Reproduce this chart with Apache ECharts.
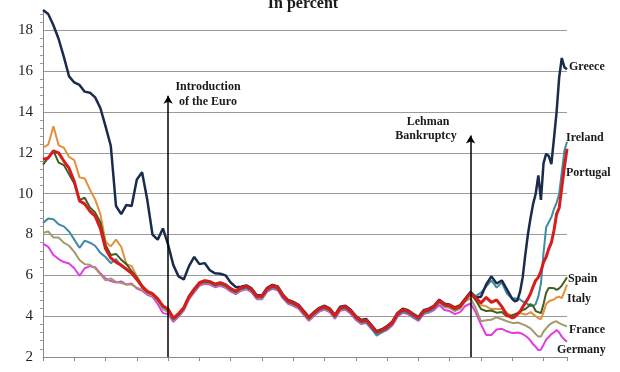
<!DOCTYPE html>
<html>
<head>
<meta charset="utf-8">
<script src="https://cdn.jsdelivr.net/npm/echarts@6/dist/echarts.min.js"></script>
<style>html,body{margin:0;padding:0;background:#fff;}#c{width:620px;height:372px;}</style>
</head>
<body>
<div id="c"></div>
<script>
// Month stamps (every 2 months to 2010, then monthly)
const dates = [
"1995-01","1995-03","1995-05","1995-07","1995-09","1995-11",
"1996-01","1996-03","1996-05","1996-07","1996-09","1996-11",
"1997-01","1997-03","1997-05","1997-07","1997-09","1997-11",
"1998-01","1998-03","1998-05","1998-07","1998-09","1998-11",
"1999-01","1999-03","1999-05","1999-07","1999-09","1999-11",
"2000-01","2000-03","2000-05","2000-07","2000-09","2000-11",
"2001-01","2001-03","2001-05","2001-07","2001-09","2001-11",
"2002-01","2002-03","2002-05","2002-07","2002-09","2002-11",
"2003-01","2003-03","2003-05","2003-07","2003-09","2003-11",
"2004-01","2004-03","2004-05","2004-07","2004-09","2004-11",
"2005-01","2005-03","2005-05","2005-07","2005-09","2005-11",
"2006-01","2006-03","2006-05","2006-07","2006-09","2006-11",
"2007-01","2007-03","2007-05","2007-07","2007-09","2007-11",
"2008-01","2008-03","2008-05","2008-07","2008-09","2008-11",
"2009-01","2009-03","2009-05","2009-07","2009-09","2009-11",
"2010-01","2010-02","2010-03","2010-04","2010-05","2010-06","2010-07","2010-08","2010-09","2010-10","2010-11","2010-12",
"2011-01","2011-02","2011-03","2011-04","2011-05","2011-06","2011-07","2011-08","2011-09","2011-10"
];

const greece = [
19.0,18.8,18.25,17.58,16.7,15.75,15.45,15.33,15.0,14.95,14.72,14.2,13.3,12.35,9.4,9.0,9.45,9.4,10.7,11.05,9.7,8.0,7.75,8.3,7.5,6.5,5.95,5.8,6.45,6.9,6.55,6.6,6.25,6.1,6.08,6.0,5.65,5.42,
5.44,5.51,5.36,5.02,5.02,5.39,5.53,5.46,5.06,4.79,4.7,4.56,4.26,3.96,4.21,4.41,4.51,4.38,4.06,4.46,4.51,4.31,4.01,3.81,3.86,3.56,3.26,3.36,3.51,3.73,4.16,4.36,4.29,4.12,3.96,4.29,4.37,4.51,4.81,4.61,4.56,4.41,4.53,4.86,
5.18,4.9,4.95,5.55,5.95,5.6,5.75,5.3,4.85,
4.73,4.78,5.2,5.9,7.0,8.0,8.8,9.5,10.0,10.9,9.7,11.5,11.95,11.85,11.45,12.7,14.0,15.7,16.65,16.2,16.1
];
const ireland = [
8.57,8.78,8.75,8.5,8.4,8.15,7.75,7.35,7.7,7.6,7.45,7.1,6.9,6.6,6.8,6.45,6.3,6.1,5.85,5.45,5.2,5.05,4.8,4.45,4.3,
3.82,4.05,4.35,4.9,5.25,5.57,5.67,5.63,5.5,5.57,5.47,5.28,5.16,5.33,5.4,5.25,4.91,4.91,5.28,5.42,5.35,4.95,4.68,4.59,4.45,4.15,3.85,4.1,4.3,4.4,4.27,3.95,4.35,4.4,4.2,3.9,3.7,3.72,3.4,3.05,3.2,3.38,3.6,4.03,4.23,4.16,3.98,3.82,4.15,4.24,4.38,4.7,4.52,4.48,4.35,4.45,4.8,
5.2,4.98,5.15,5.45,5.75,5.4,5.65,5.1,4.85,
4.88,4.85,4.82,4.72,4.66,4.58,4.5,4.5,4.6,4.96,5.6,7.1,8.35,8.6,8.85,9.25,9.55,10.0,11.05,12.1,12.55
];
const portugal = [
11.68,11.75,12.1,12.0,11.6,11.25,10.6,9.65,9.5,9.15,8.9,8.3,7.3,6.85,6.65,6.5,6.3,6.1,5.8,5.45,5.2,5.1,4.85,4.5,4.35,
3.9,4.12,4.42,4.97,5.32,5.64,5.74,5.7,5.57,5.64,5.54,5.35,5.23,5.4,5.47,5.32,4.98,4.98,5.35,5.49,5.42,5.02,4.75,4.66,4.52,4.22,3.92,4.17,4.37,4.47,4.34,4.02,4.42,4.47,4.27,3.97,3.77,3.82,3.52,3.22,3.32,3.47,3.69,4.12,4.32,4.25,4.08,3.92,4.25,4.33,4.47,4.77,4.57,4.52,4.37,4.49,4.82,
5.13,4.88,4.65,4.92,4.68,4.8,4.47,4.05,3.92,
3.97,4.1,4.23,4.45,4.65,4.85,5.1,5.45,5.75,5.9,6.2,6.65,6.9,7.3,7.6,8.2,9.0,9.3,10.3,11.3,12.2
];
const spain = [
11.43,11.75,12.1,11.52,11.4,10.95,10.5,9.7,9.8,9.33,9.08,8.6,7.5,7.0,7.05,6.77,6.55,6.2,5.9,5.5,5.22,5.1,4.86,4.5,4.33,
3.86,4.08,4.38,4.93,5.28,5.6,5.7,5.66,5.53,5.6,5.5,5.31,5.19,5.36,5.43,5.28,4.94,4.94,5.31,5.45,5.38,4.98,4.71,4.62,4.48,4.18,3.88,4.13,4.33,4.43,4.3,3.98,4.38,4.43,4.23,3.93,3.73,3.78,3.48,3.18,3.28,3.43,3.65,4.08,4.28,4.21,4.04,3.88,4.21,4.29,4.43,4.73,4.53,4.48,4.33,4.45,4.78,
5.13,4.78,4.35,4.25,4.28,4.17,4.2,3.98,4.05,
4.1,4.15,4.23,4.3,4.35,4.45,4.6,4.5,4.25,4.2,4.15,4.6,5.15,5.38,5.38,5.37,5.29,5.36,5.5,5.7,5.9
];
const italy = [
12.26,12.4,13.3,12.37,12.25,11.8,11.65,10.8,10.75,10.2,9.72,9.0,7.65,7.42,7.75,7.4,6.55,6.45,5.95,5.5,5.25,5.12,4.88,4.52,4.35,
3.88,4.13,4.43,4.98,5.33,5.65,5.75,5.71,5.58,5.65,5.55,5.36,5.24,5.41,5.48,5.33,4.99,4.99,5.36,5.5,5.43,5.03,4.76,4.67,4.53,4.23,3.93,4.18,4.38,4.48,4.35,4.03,4.43,4.48,4.28,3.98,3.78,3.83,3.53,3.23,3.33,3.48,3.7,4.13,4.33,4.26,4.09,3.93,4.26,4.34,4.5,4.8,4.62,4.58,4.45,4.55,4.85,
5.05,4.78,4.55,4.48,4.35,4.35,4.35,4.15,4.0,
4.0,4.1,4.15,4.12,4.08,4.12,4.2,4.1,4.0,3.9,3.85,4.2,4.6,4.72,4.78,4.82,4.92,4.95,4.88,5.2,5.55
];
const france = [
8.08,8.15,7.85,7.85,7.6,7.45,7.15,6.75,6.55,6.52,6.35,6.05,5.75,5.85,5.68,5.62,5.55,5.55,5.4,5.3,5.1,5.0,4.75,4.35,4.2,
3.78,4.02,4.32,4.87,5.22,5.54,5.64,5.6,5.47,5.54,5.44,5.25,5.13,5.3,5.37,5.22,4.88,4.88,5.25,5.39,5.32,4.92,4.65,4.56,4.42,4.12,3.82,4.07,4.27,4.37,4.24,3.92,4.32,4.37,4.17,3.87,3.67,3.72,3.42,3.14,3.24,3.37,3.59,4.02,4.22,4.15,3.98,3.82,4.15,4.23,4.37,4.67,4.45,4.4,4.25,4.37,4.72,
4.88,4.4,3.75,3.8,3.82,3.95,3.85,3.75,3.67,
3.67,3.69,3.65,3.6,3.55,3.48,3.4,3.27,3.12,3.0,3.0,3.25,3.4,3.55,3.65,3.72,3.75,3.66,3.6,3.55,3.5
];
const germany = [
7.55,7.4,7.0,6.8,6.65,6.58,6.35,5.98,6.35,6.45,6.4,6.1,5.85,5.72,5.65,5.7,5.55,5.6,5.35,5.25,5.05,4.95,4.6,4.15,4.1,
3.72,3.97,4.27,4.82,5.17,5.49,5.59,5.55,5.42,5.49,5.39,5.2,5.08,5.25,5.32,5.17,4.83,4.83,5.2,5.34,5.27,4.87,4.6,4.51,4.37,4.07,3.77,4.02,4.22,4.32,4.19,3.87,4.27,4.32,4.12,3.82,3.62,3.67,3.37,3.12,3.22,3.32,3.54,3.97,4.17,4.1,3.93,3.77,4.1,4.18,4.3,4.55,4.3,4.25,4.1,4.2,4.5,
4.62,4.18,3.6,3.08,3.08,3.35,3.38,3.26,3.17,
3.18,3.2,3.18,3.12,3.04,2.94,2.8,2.62,2.5,2.34,2.36,2.6,2.85,2.98,3.12,3.2,3.33,3.2,3.0,2.85,2.75
];

const yTicks = [2, 4, 6, 8, 10, 12, 14, 16, 18];
const euroDate = "1999-01", euroTop = 14.8;
const lehmanDate = "2008-09", lehmanTop = 12.85;

const SERIF = '"Liberation Serif","Times New Roman",serif';
function toYear(s){ const p = s.split('-'); return +p[0] + (+p[1]-1)/12; }
const xs = dates.map(toYear);
function pairs(vals){ return vals.map((v,i)=>[xs[i], v]); }

const defs = [
  {name:'Germany', data:germany, color:'#e03ce0', w:2},
  {name:'France', data:france, color:'#a09a6c', w:2},
  {name:'Ireland', data:ireland, color:'#3f8ba5', w:2},
  {name:'Italy', data:italy, color:'#e3913c', w:2},
  {name:'Spain', data:spain, color:'#3f6023', w:2},
  {name:'Greece', data:greece, color:'#1b2b4b', w:2.5},
  {name:'Portugal', data:portugal, color:'#d81c1c', w:3}
];

const series = defs.map(d => ({
  name: d.name, type:'line', data: pairs(d.data), showSymbol:false, symbol:'none',
  lineStyle:{color:d.color, width:d.w}, itemStyle:{color:d.color}, silent:true, z:2
}));
series[series.length-1].markLine = {
  silent:true, symbol:['none','arrow'], symbolSize:[7,8],
  lineStyle:{color:'#000', width:1.5, type:'solid'}, label:{show:false},
  data:[
    [{coord:[toYear(euroDate), yTicks[0]]},{coord:[toYear(euroDate), euroTop]}],
    [{coord:[toYear(lehmanDate), yTicks[0]]},{coord:[toYear(lehmanDate), lehmanTop]}]
  ]
};

const bad = defs.filter(d => d.data.length !== dates.length).map(d=>d.name+':'+d.data.length);

function txt(t, x, y, align, size, weight){
  return {type:'text', left:undefined, x:x, y:y, style:{text:t, fill:'#1a1a1a', font:(weight||'bold')+' '+size+'px '+SERIF, textAlign:align||'left', textVerticalAlign:'middle'}, z:10};
}

const chart = echarts.init(document.getElementById('c'), null, {renderer:'canvas'});
chart.setOption({
  animation:false,
  backgroundColor:'#fff',
  grid:{left:43, right:53, top:10, bottom:15, containLabel:false},
  xAxis:{type:'value', min:toYear(dates[0]), max:toYear(dates[dates.length-1]), interval:1,
    axisLine:{show:true, lineStyle:{color:'#8a8a8a', width:1}},
    axisTick:{show:true, length:4, lineStyle:{color:'#8a8a8a'}},
    axisLabel:{show:false}, splitLine:{show:false}},
  yAxis:{type:'value', min:yTicks[0], max:19, interval:2,
    axisLine:{show:true, lineStyle:{color:'#8a8a8a', width:1}},
    axisTick:{show:false},
    minorTick:{show:true, splitNumber:5, length:3, lineStyle:{color:'#9a9a9a'}},
    axisLabel:{fontFamily:SERIF, fontSize:15, color:'#222', margin:10, showMaxLabel:false},
    splitLine:{show:true, showMinLine:false, showMaxLine:false, lineStyle:{color:'#9a9a9a', width:1}}},
  series:series,
  graphic:[
    txt('In percent', 303, 4, 'center', 16, 'bold'),
    txt('Introduction', 208, 87, 'center', 12),
    txt('of the Euro', 208, 102, 'center', 12),
    txt('Lehman', 428, 122, 'center', 12),
    txt('Bankruptcy', 426, 136, 'center', 12),
    txt('Greece', 569, 67, 'left', 12),
    txt('Ireland', 566, 138, 'left', 12),
    txt('Portugal', 566, 173, 'left', 12),
    txt('Spain', 568, 279, 'left', 12),
    txt('Italy', 567, 299, 'left', 12),
    txt('France', 569, 330, 'left', 12),
    txt('Germany', 557, 350, 'left', 12)
  ].concat(bad.length ? [txt('LEN ' + bad.join(' '), 60, 360, 'left', 10)] : [])
});
</script>
</body>
</html>
